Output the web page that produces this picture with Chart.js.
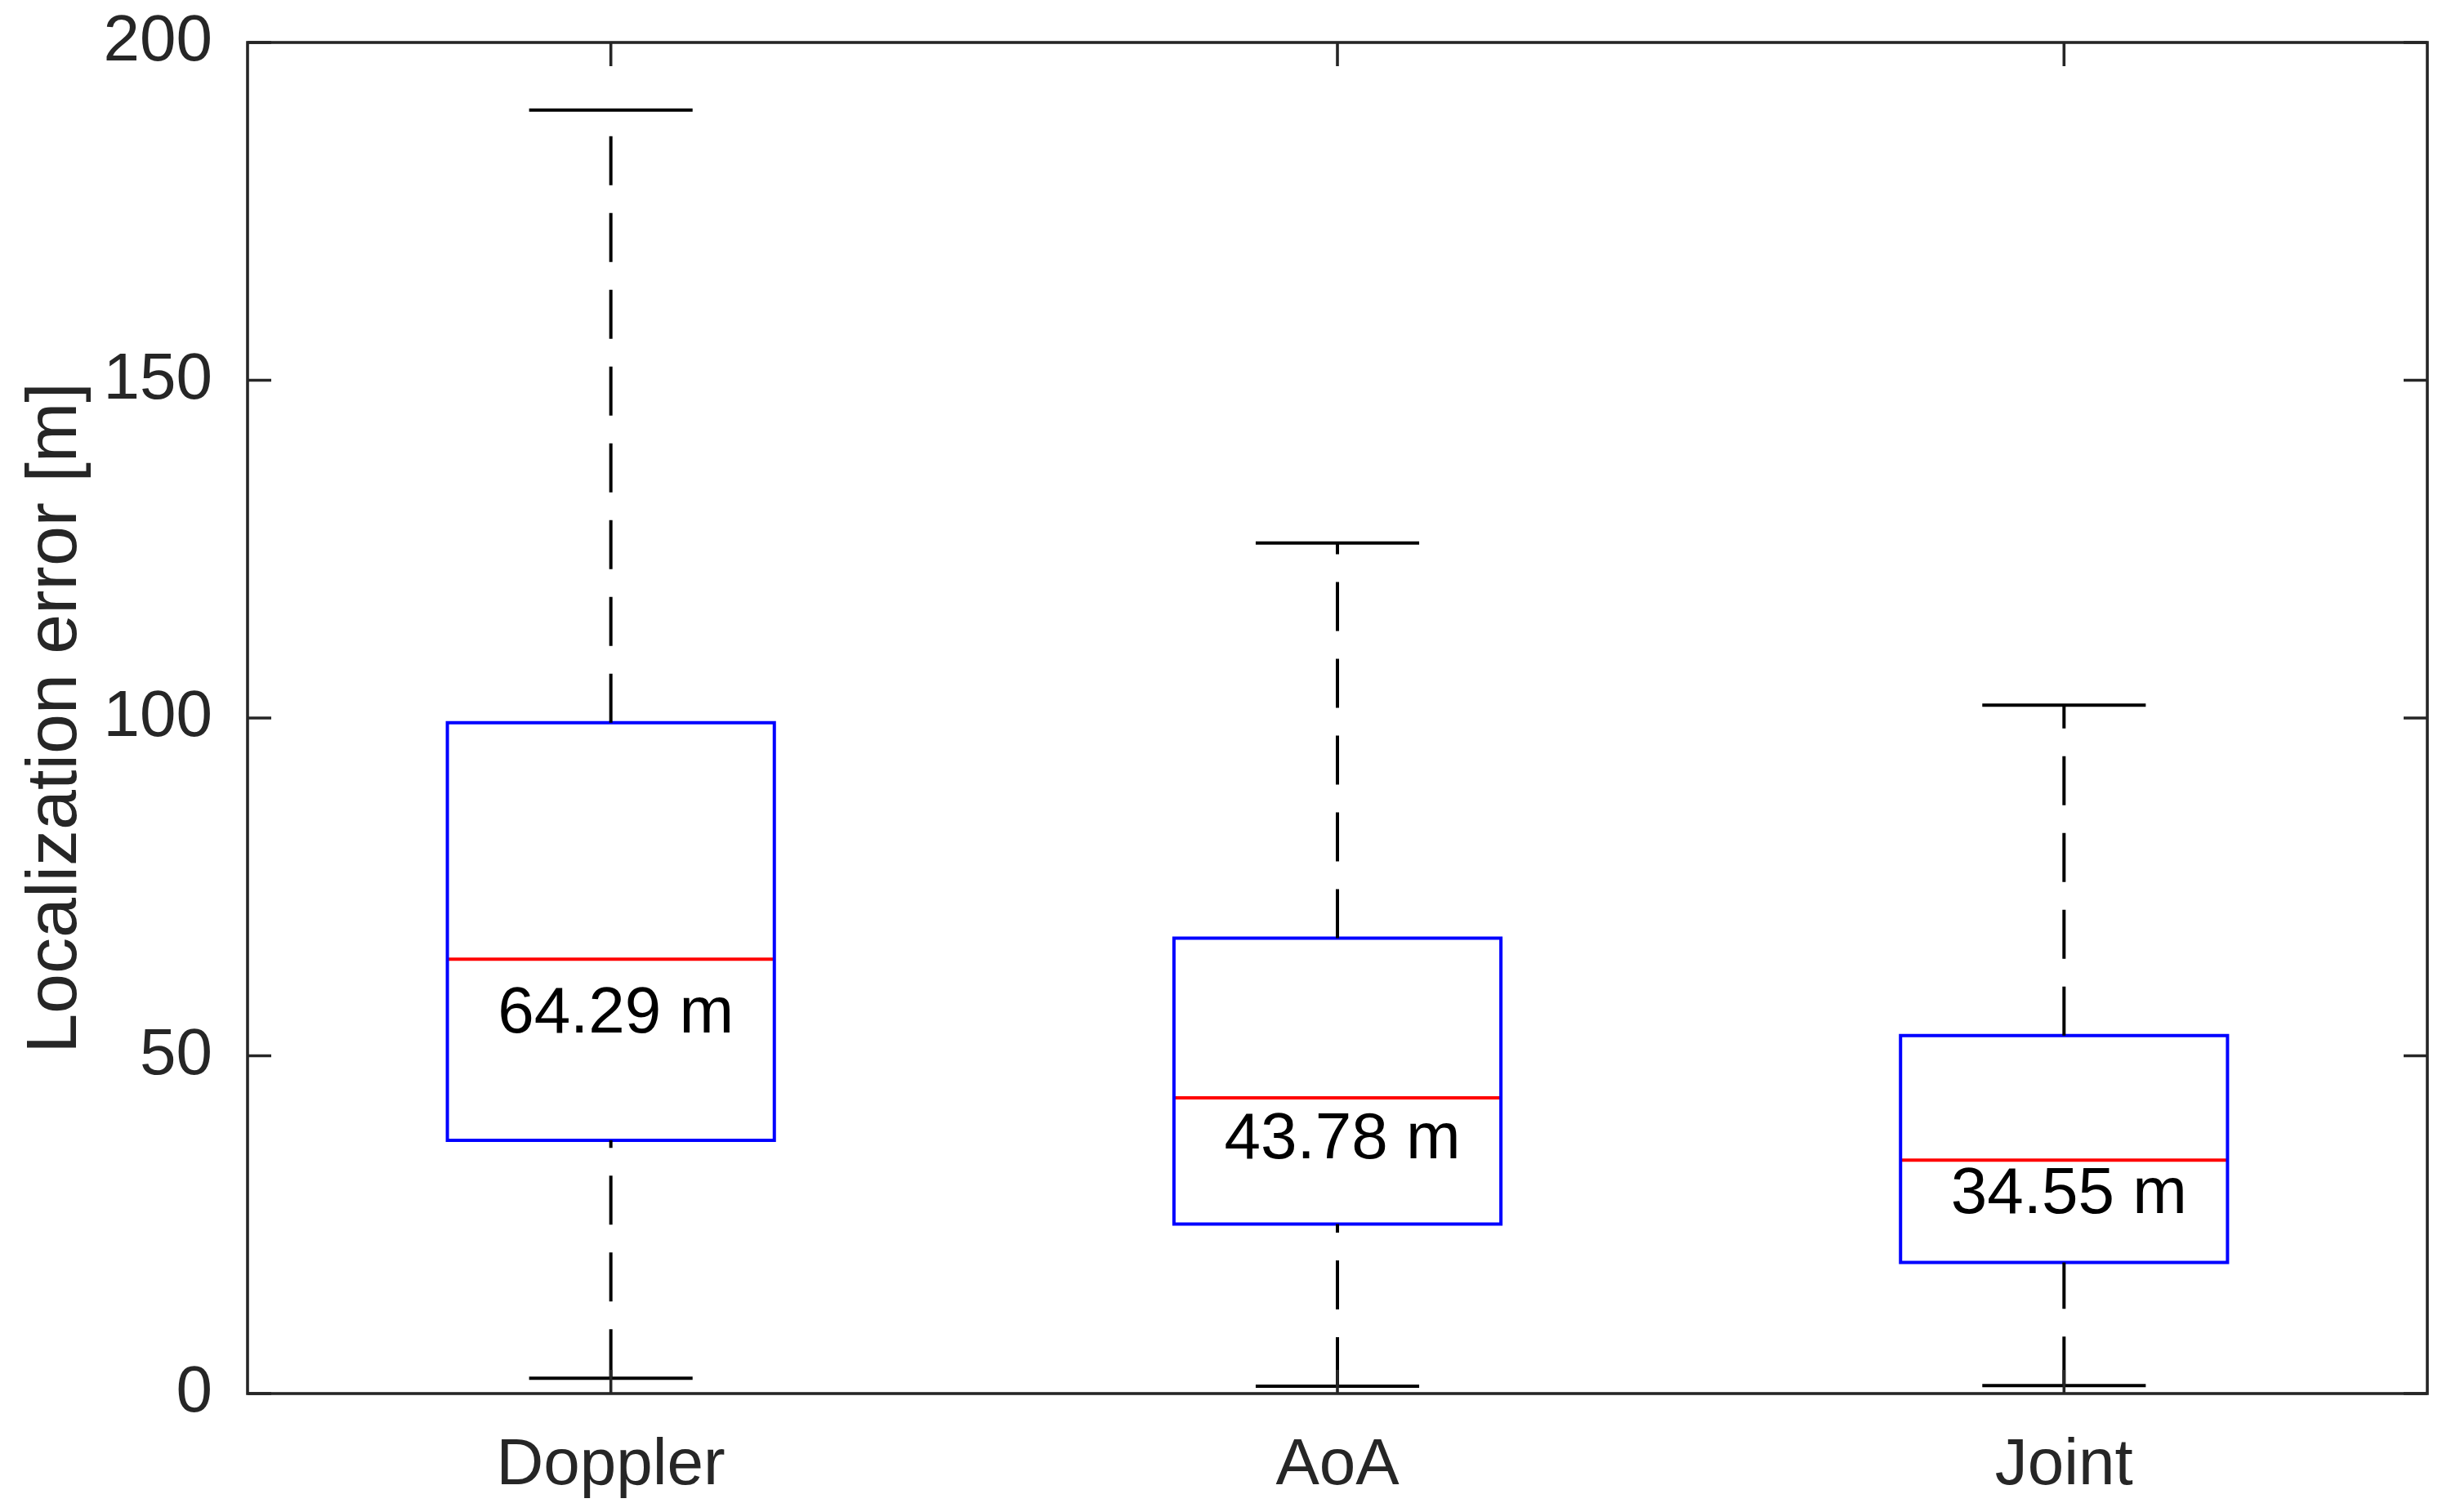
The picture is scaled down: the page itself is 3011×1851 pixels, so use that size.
<!DOCTYPE html>
<html>
<head>
<meta charset="utf-8">
<script src="https://cdn.jsdelivr.net/npm/chart.js@4.4.1/dist/chart.umd.min.js"></script>
<style>
  html, body { margin: 0; padding: 0; background: #fff; }
  canvas { display: block; }
</style>
</head>
<body>
<canvas id="boxChart" width="3011" height="1851"></canvas>
<script>
// values
const categories = ["Doppler", "AoA", "Joint"];
const lowerWhisker = [2.27, 1.09, 1.18];
const q1 = [37.5, 25.1, 19.4];
const medians = [64.29, 43.78, 34.55];
const q3 = [99.3, 67.4, 53.0];
const upperWhisker = [190.0, 125.9, 101.9];
const medianLabels = ["64.29 m", "43.78 m", "34.55 m"];
const labelY = [53.5, 34.8, 26.7];
const yTicks = [0, 50, 100, 150, 200];

const BOX_W = 0.45;
const CAP_W = 0.225;
const FONT = '"Liberation Sans", Arial, Helvetica, sans-serif';
const AXIS_COLOR = "#262626";

function seg(points, color, dash, cap) {
    return {
        type: "line",
        data: points,
        borderColor: color,
        borderWidth: 4,
        borderDash: dash || [],
        borderCapStyle: cap || "butt",
        pointRadius: 0,
        fill: false,
        tension: 0
    };
}

const datasets = [];
categories.forEach((name, i) => {
    const x = i + 1;
    // whiskers start at the lower end, like MATLAB
    datasets.push(seg([{x: x, y: lowerWhisker[i]}, {x: x, y: q1[i]}], "#000", [60, 34]));
    datasets.push(seg([{x: x, y: q3[i]}, {x: x, y: upperWhisker[i]}], "#000", [60, 34]));
    datasets.push(seg([{x: x - CAP_W / 2, y: upperWhisker[i]}, {x: x + CAP_W / 2, y: upperWhisker[i]}], "#000"));
    datasets.push(seg([{x: x - CAP_W / 2, y: lowerWhisker[i]}, {x: x + CAP_W / 2, y: lowerWhisker[i]}], "#000"));
    datasets.push(seg([
        {x: x - BOX_W / 2, y: q1[i]},
        {x: x + BOX_W / 2, y: q1[i]},
        {x: x + BOX_W / 2, y: q3[i]},
        {x: x - BOX_W / 2, y: q3[i]},
        {x: x - BOX_W / 2, y: q1[i]}
    ], "#0000ff", [], "square"));
    datasets.push(seg([{x: x - BOX_W / 2, y: medians[i]}, {x: x + BOX_W / 2, y: medians[i]}], "#ff0000"));
});

// axes box with inward ticks on all four sides
const framePlugin = {
    id: "frame",
    afterDraw(chart) {
        const {ctx, chartArea: a, scales} = chart;
        const tl = 29;
        ctx.save();
        ctx.strokeStyle = AXIS_COLOR;
        ctx.lineWidth = 3.6;
        ctx.beginPath();
        yTicks.forEach(v => {
            const y = scales.y.getPixelForValue(v);
            ctx.moveTo(a.left, y); ctx.lineTo(a.left + tl, y);
            ctx.moveTo(a.right, y); ctx.lineTo(a.right - tl, y);
        });
        categories.forEach((c, i) => {
            const x = scales.x.getPixelForValue(i + 1);
            ctx.moveTo(x, a.bottom); ctx.lineTo(x, a.bottom - tl);
            ctx.moveTo(x, a.top); ctx.lineTo(x, a.top + tl);
        });
        ctx.stroke();
        ctx.strokeRect(a.left, a.top, a.right - a.left, a.bottom - a.top);
        ctx.restore();
    }
};

const labelPlugin = {
    id: "medianText",
    afterDatasetsDraw(chart) {
        const {ctx, scales} = chart;
        ctx.save();
        ctx.font = "80px " + FONT;
        ctx.fillStyle = "#000";
        ctx.textAlign = "center";
        ctx.textBaseline = "alphabetic";
        medianLabels.forEach((t, i) => {
            ctx.fillText(t, scales.x.getPixelForValue(i + 1) + 6, scales.y.getPixelForValue(labelY[i]));
        });
        ctx.restore();
    }
};

new Chart(document.getElementById("boxChart"), {
    type: "scatter",
    data: { datasets: datasets },
    options: {
        responsive: false,
        animation: false,
        devicePixelRatio: 1,
        layout: { padding: { top: 52, right: 40, left: 0, bottom: 0 } },
        plugins: {
            legend: { display: false },
            tooltip: { enabled: false }
        },
        scales: {
            x: {
                type: "linear",
                min: 0.5,
                max: 3.5,
                grid: { display: false },
                border: { display: false },
                afterBuildTicks: scale => { scale.ticks = categories.map((c, i) => ({ value: i + 1 })); },
                afterFit: scale => {
                    scale.height = 145;
                    scale.paddingLeft = 0;
                    scale.paddingRight = 0;
                },
                ticks: {
                    autoSkip: false,
                    maxRotation: 0,
                    padding: 33,
                    color: AXIS_COLOR,
                    font: { size: 80, family: FONT },
                    callback: v => categories[v - 1]
                }
            },
            y: {
                min: 0,
                max: 200,
                grid: { display: false },
                border: { display: false },
                afterBuildTicks: scale => { scale.ticks = yTicks.map(v => ({ value: v })); },
                afterFit: scale => {
                    scale.width = 303;
                    scale.paddingTop = 0;
                    scale.paddingBottom = 0;
                },
                ticks: {
                    padding: 35,
                    color: AXIS_COLOR,
                    font: { size: 80, family: FONT }
                },
                title: {
                    display: true,
                    text: "Localization error [m]",
                    color: AXIS_COLOR,
                    font: { size: 88, family: FONT },
                    padding: { top: 16, bottom: 0 }
                }
            }
        }
    },
    plugins: [framePlugin, labelPlugin]
});
</script>
</body>
</html>
